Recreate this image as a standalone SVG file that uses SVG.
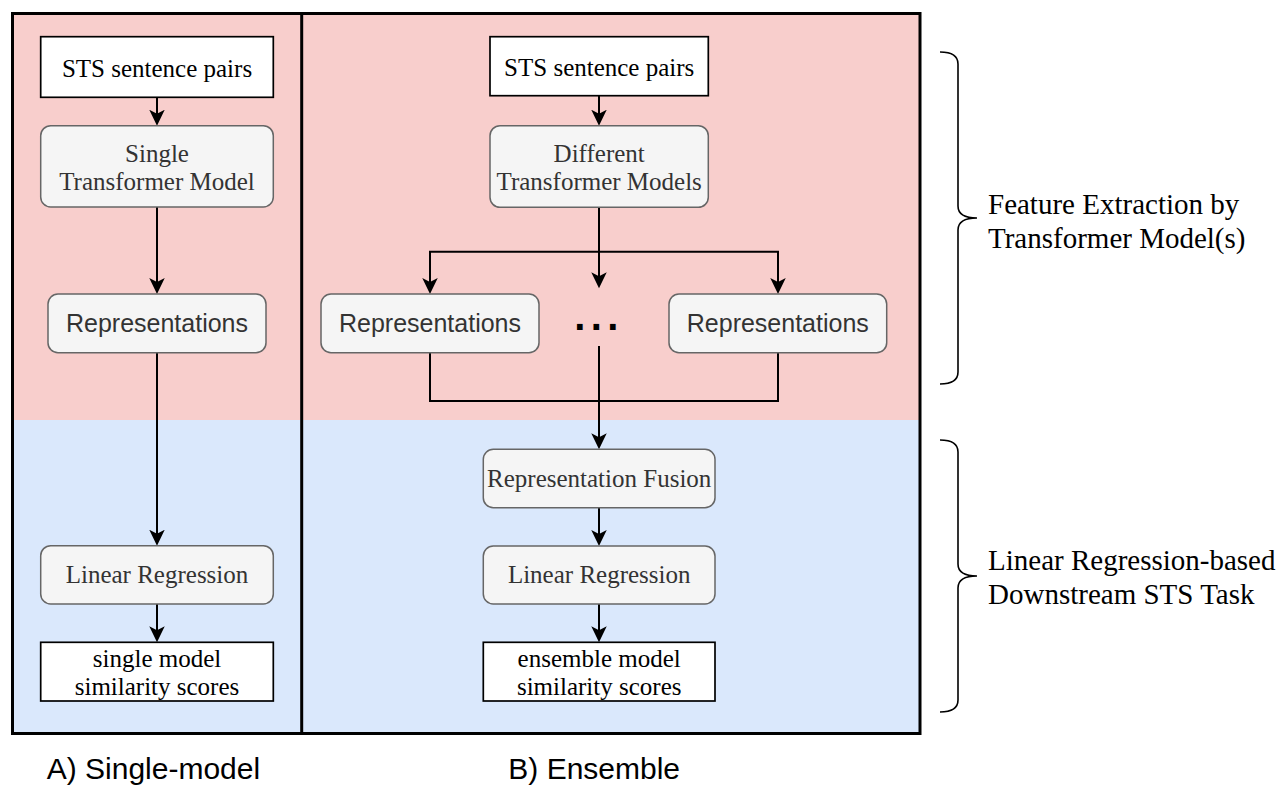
<svg xmlns="http://www.w3.org/2000/svg" width="1277" height="785" viewBox="0 0 1277 785">
<style>
.wbox{fill:#ffffff;stroke:#000000;stroke-width:1.7}
.gbox{fill:#f5f5f5;stroke:#666666;stroke-width:1.5}
.serif{font-family:"Liberation Serif","Times New Roman",serif;font-size:25px;text-anchor:middle}
.sans{font-family:"Liberation Sans",Arial,sans-serif;font-size:25px;text-anchor:middle}
.dark{fill:#000000}
.grey{fill:#333333}
.conn{fill:none;stroke:#000000;stroke-width:2}
.brace{fill:none;stroke:#000000;stroke-width:1.6}
.side{font-family:"Liberation Serif","Times New Roman",serif;font-size:29px;fill:#000000}
.label{font-family:"Liberation Sans",Arial,sans-serif;font-size:30px;fill:#000000}
</style>
<defs>
<marker id="arr" markerUnits="userSpaceOnUse" markerWidth="18" markerHeight="18" refX="12" refY="7.75" orient="auto">
<path d="M0,0 L16,7.75 L0,15.5 L4,7.75 Z" fill="#000000"/>
</marker>
</defs>
<g id="background">
<rect x="12.5" y="13.5" width="907.5" height="406.5" fill="#f8cecc"/>
<rect x="12.5" y="420" width="907.5" height="313.5" fill="#dae8fc"/>
<rect x="12.5" y="13.5" width="907.5" height="720" fill="none" stroke="#000000" stroke-width="3"/>
<line x1="301.7" y1="13.5" x2="301.7" y2="733.5" stroke="#000000" stroke-width="3"/>
</g>
<g id="connectors">
<path class="conn" d="M157,97.3 L157,121.7" marker-end="url(#arr)"/>
<path class="conn" d="M157,207 L157,290" marker-end="url(#arr)"/>
<path class="conn" d="M157,352.7 L157,541.7" marker-end="url(#arr)"/>
<path class="conn" d="M157,604 L157,638.3" marker-end="url(#arr)"/>
<path class="conn" d="M599,95.7 L599,121.7" marker-end="url(#arr)"/>
<path class="conn" d="M599,207.3 L599,284.3" marker-end="url(#arr)"/>
<path class="conn" d="M599,251.7 L430,251.7 L430,290" marker-end="url(#arr)"/>
<path class="conn" d="M599,251.7 L778,251.7 L778,290" marker-end="url(#arr)"/>
<path class="conn" d="M430,352.7 L430,401 L778,401 L778,352.7"/>
<path class="conn" d="M599,346 L599,445.3" marker-end="url(#arr)"/>
<path class="conn" d="M599,507.7 L599,542" marker-end="url(#arr)"/>
<path class="conn" d="M599,604 L599,638.3" marker-end="url(#arr)"/>
</g>
<g id="a-sts">
<rect class="wbox" x="40.7" y="36.7" width="232.6" height="60.6"/>
<text class="serif dark" x="157" y="76.5">STS sentence pairs</text>
</g>
<g id="a-model">
<rect class="gbox" x="40.7" y="125.7" width="232.6" height="81.3" rx="10"/>
<text class="serif grey" x="157" y="161.7">Single</text>
<text class="serif grey" x="157" y="190">Transformer Model</text>
</g>
<g id="a-repr">
<rect class="gbox" x="48" y="294" width="218" height="58.7" rx="10"/>
<text class="sans grey" x="157" y="331.7">Representations</text>
</g>
<g id="a-lr">
<rect class="gbox" x="40.7" y="545.7" width="232.6" height="58.3" rx="10"/>
<text class="serif grey" x="157" y="582.8">Linear Regression</text>
</g>
<g id="a-scores">
<rect class="wbox" x="40.7" y="642.3" width="232.6" height="58.7"/>
<text class="serif dark" x="157" y="666.7">single model</text>
<text class="serif dark" x="157" y="695">similarity scores</text>
</g>
<g id="b-sts">
<rect class="wbox" x="490" y="36.7" width="218.3" height="59"/>
<text class="serif dark" x="599.2" y="75.8">STS sentence pairs</text>
</g>
<g id="b-models">
<rect class="gbox" x="490" y="125.7" width="218.3" height="81.6" rx="10"/>
<text class="serif grey" x="599.2" y="161.7">Different</text>
<text class="serif grey" x="599.2" y="190">Transformer Models</text>
</g>
<g id="b-repr1">
<rect class="gbox" x="321" y="294" width="218" height="58.7" rx="10"/>
<text class="sans grey" x="430" y="331.7">Representations</text>
</g>
<g id="b-dots">
<text x="599" y="329.5" font-family="Liberation Sans, Arial, sans-serif" font-size="40" font-weight="bold" letter-spacing="5.4" text-anchor="middle" fill="#000000">...</text>
</g>
<g id="b-repr2">
<rect class="gbox" x="669" y="294" width="217.7" height="58.7" rx="10"/>
<text class="sans grey" x="777.8" y="331.7">Representations</text>
</g>
<g id="b-fusion">
<rect class="gbox" x="483.3" y="449.3" width="231.7" height="58.4" rx="10"/>
<text class="serif grey" x="599.2" y="486.7">Representation Fusion</text>
</g>
<g id="b-lr">
<rect class="gbox" x="483.3" y="546" width="231.7" height="58" rx="10"/>
<text class="serif grey" x="599.2" y="583.3">Linear Regression</text>
</g>
<g id="b-scores">
<rect class="wbox" x="483.3" y="642.3" width="231.7" height="58.7"/>
<text class="serif dark" x="599.2" y="666.7">ensemble model</text>
<text class="serif dark" x="599.2" y="695">similarity scores</text>
</g>
<g id="brace-feature">
<path class="brace" d="M940,52 Q958,52 958,64 L958,206 Q958,218 977,218 Q958,218 958,230 L958,372 Q958,384 940,384"/>
<text class="side" x="988" y="214">Feature Extraction by</text>
<text class="side" x="988" y="248">Transformer Model(s)</text>
</g>
<g id="brace-regression">
<path class="brace" d="M940,440 Q958,440 958,452 L958,564 Q958,576 977,576 Q958,576 958,588 L958,700 Q958,712 940,712"/>
<text class="side" x="988" y="570">Linear Regression-based</text>
<text class="side" x="988" y="604">Downstream STS Task</text>
</g>
<g id="labels">
<text class="label" x="46.7" y="779">A) Single-model</text>
<text class="label" x="508.3" y="779">B) Ensemble</text>
</g>
</svg>
